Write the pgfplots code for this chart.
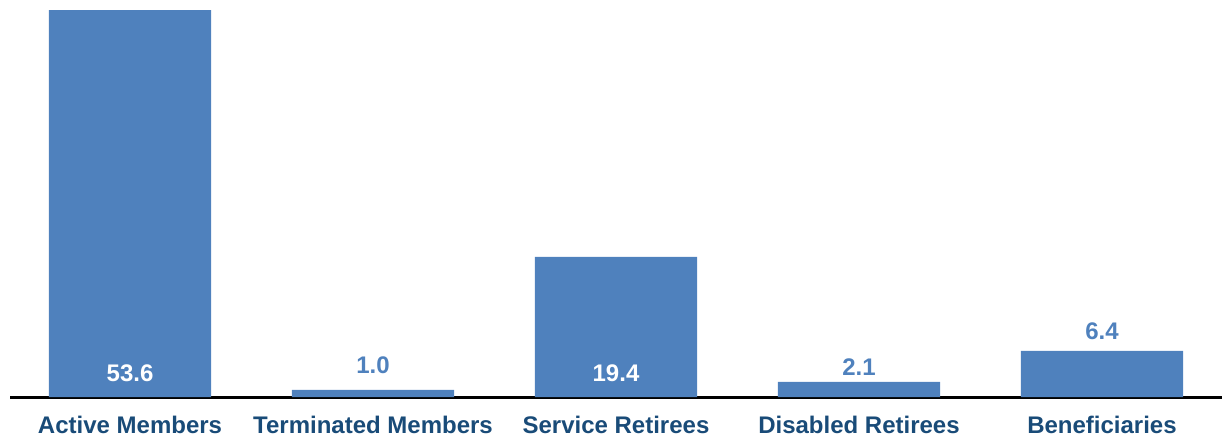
\documentclass[border=0pt]{standalone}
\usepackage{pgfplots}
\pgfplotsset{compat=1.18}
\usepackage{fontspec}
\setmainfont{Liberation Sans}
\definecolor{barblue}{RGB}{79,129,189}
\definecolor{labblue}{RGB}{25,75,120}
\begin{document}
\begin{tikzpicture}
\useasboundingbox (-10pt,-39pt) rectangle (1212pt,397pt);
\begin{axis}[
  scale only axis,
  width=1212pt, height=397pt,
  xmin=-0.494, xmax=4.494,
  ymin=0, ymax=55,
  axis x line=bottom,
  axis y line=none,
  axis line style={-, line width=3pt, black},
  every outer x axis line/.append style={-, line width=3pt, black},
  xtick=data,
  xtick style={draw=none},
  xticklabels={Active Members, Terminated Members, Service Retirees, Disabled Retirees, Beneficiaries},
  xticklabel style={font=\fontsize{24}{28}\selectfont\bfseries, text=labblue, anchor=base, yshift=-34pt},
  ytick=\empty,
  clip=false,
]
\addplot[ybar, bar width=0.667, fill=barblue, draw=none] coordinates {(0,53.6) (1,1.0) (2,19.4) (3,2.1) (4,6.4)};
\addplot[only marks, mark=none, nodes near coords, point meta=explicit symbolic,
  every node near coord/.style={anchor=center, text=white, font=\fontsize{24}{28}\selectfont\bfseries}]
  coordinates {(0,3.32)[53.6] (2,3.32)[19.4]};
\addplot[only marks, mark=none, nodes near coords, point meta=explicit symbolic,
  every node near coord/.style={anchor=center, text=barblue, font=\fontsize{24}{28}\selectfont\bfseries}]
  coordinates {(1,4.43)[1.0] (3,4.15)[2.1] (4,9.14)[6.4]};
\end{axis}
\end{tikzpicture}
\end{document}
